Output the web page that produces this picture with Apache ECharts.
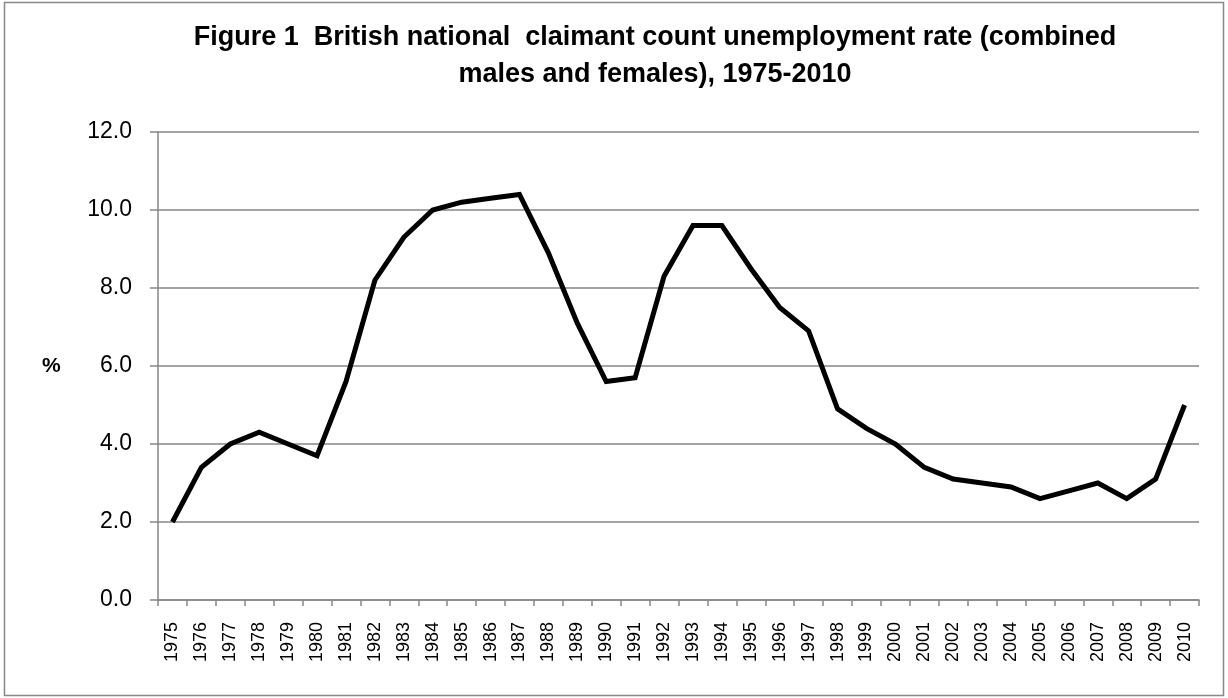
<!DOCTYPE html>
<html>
<head>
<meta charset="utf-8">
<script src="https://cdn.jsdelivr.net/npm/echarts@6/dist/echarts.min.js"></script>
<style>html,body{margin:0;padding:0;background:#fff}#c{width:1228px;height:698px}</style>
</head>
<body>
<div id="c"></div>
<script>
const years = ['1975','1976','1977','1978','1979','1980','1981','1982','1983','1984','1985','1986','1987','1988','1989','1990','1991','1992','1993','1994','1995','1996','1997','1998','1999','2000','2001','2002','2003','2004','2005','2006','2007','2008','2009','2010'];
const rate = [2.0,3.4,4.0,4.3,4.0,3.7,5.6,8.2,9.3,10.0,10.2,10.3,10.4,8.9,7.1,5.6,5.7,8.3,9.6,9.6,8.5,7.5,6.9,4.9,4.4,4.0,3.4,3.1,3.0,2.9,2.6,2.8,3.0,2.6,3.1,5.0];
const titleLines = ['Figure 1  British national  claimant count unemployment rate (combined', 'males and females), 1975-2010'];
const yName = '%';

const chart = echarts.init(document.getElementById('c'));
chart.setOption({
  animation: false,
  backgroundColor: '#fff',
  title: {
    text: titleLines.join('\n'),
    left: 650, top: 14, textAlign: 'center',
    textStyle: {fontFamily: 'Liberation Sans', fontWeight: 'bold', fontSize: 27, color: '#000', lineHeight: 37}
  },
  graphic: [
    {type: 'rect', shape: {x: 4.5, y: 2.5, width: 1219, height: 693}, style: {fill: 'none', stroke: '#888', lineWidth: 1.5}, silent: true},
    {type: 'text', left: 42, top: 356, style: {text: yName, fontFamily: 'Liberation Sans', fontWeight: 'bold', fontSize: 21, fill: '#000'}}
  ],
  grid: {left: 158, right: 29, top: 132, bottom: 98, containLabel: false},
  xAxis: {
    type: 'category', data: years, boundaryGap: true,
    axisLine: {lineStyle: {color: '#868686', width: 1.5}},
    axisTick: {show: true, interval: 0, length: 6, lineStyle: {color: '#868686', width: 1.5}},
    axisLabel: {interval: 0, rotate: 90, fontFamily: 'Liberation Sans', fontSize: 18, color: '#000', margin: 22},
    splitLine: {show: false}
  },
  yAxis: {
    type: 'value', min: 0, max: 12, interval: 2,
    axisLine: {show: true, lineStyle: {color: '#868686', width: 1.5}},
    axisTick: {show: true, length: 8, lineStyle: {color: '#868686', width: 1.5}},
    axisLabel: {fontFamily: 'Liberation Sans', fontSize: 23, color: '#000', margin: 26, formatter: v => v.toFixed(1)},
    splitLine: {show: true, lineStyle: {color: '#868686', width: 1.5}}
  },
  series: [{
    type: 'line', data: rate, showSymbol: false, symbol: 'none',
    lineStyle: {color: '#000', width: 5, join: 'miter'}
  }]
});
</script>
</body>
</html>
